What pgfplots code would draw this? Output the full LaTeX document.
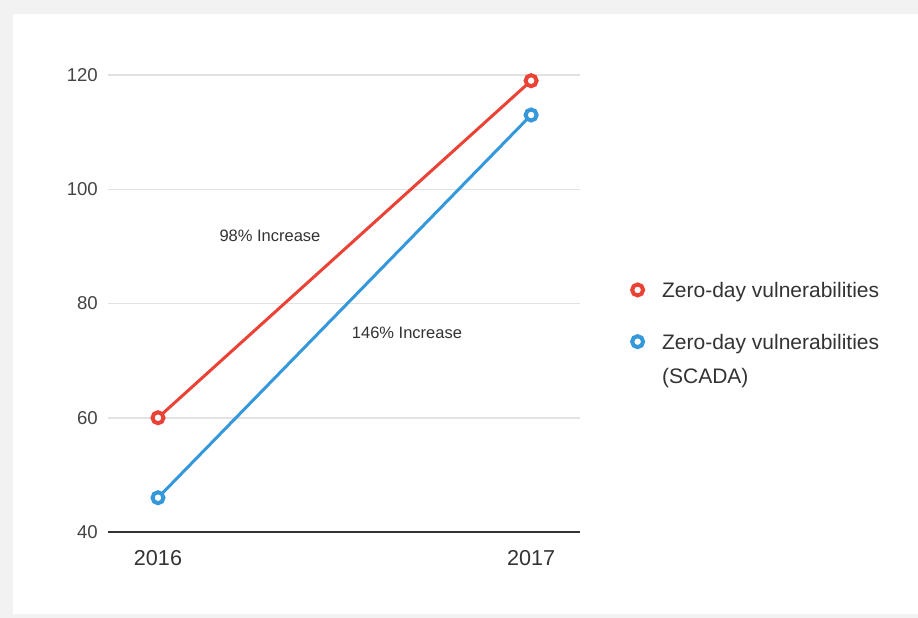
\documentclass[border=0pt]{standalone}
\usepackage{fontspec}
\setmainfont{Liberation Sans}
\usepackage{pgfplots}
\pgfplotsset{compat=1.18}
\definecolor{zred}{RGB}{234,67,53}
\definecolor{zblue}{RGB}{52,152,219}
\definecolor{bggray}{RGB}{242,242,242}
\definecolor{gridgray}{RGB}{226,226,226}
\definecolor{axisdark}{RGB}{51,51,51}
\definecolor{txt}{RGB}{68,68,68}
\begin{document}
\begin{tikzpicture}
\fill[bggray] (0,0) rectangle (918pt,-618pt);
\fill[white] (13pt,-14pt) rectangle (918pt,-614pt);
\useasboundingbox (0,0) rectangle (918pt,-618pt);
\begin{axis}[
  at={(108pt,-532pt)}, anchor=south west,
  scale only axis, width=472pt, height=457pt,
  xmin=2015.866, xmax=2017.131, ymin=40, ymax=120,
  xtick={2016,2017}, xticklabels={2016,2017},
  ytick={40,60,80,100,120},
  ymajorgrids, major grid style={gridgray, line width=1.5pt},
  major tick length=0pt,
  axis lines*=left,
  separate axis lines,
  x axis line style={draw=axisdark, line width=2.8pt},
  y axis line style={draw=none},
  /pgf/number format/assume math mode=true,
  yticklabel style={font=\fontsize{18.6}{20}\selectfont, text=txt, inner sep=0pt, xshift=-10pt},
  xticklabel style={font=\fontsize{21.6}{24}\selectfont, text=axisdark, inner sep=0pt, yshift=-18pt},
  clip=false,
  legend image code/.code={\draw[#1] plot coordinates {(0pt,7.5pt)};},
  legend style={at={(1.110,0.547)}, anchor=north west, draw=none, fill=none,
    inner sep=0pt, row sep=35pt, column sep=19pt,
    cells={anchor=base west},
    nodes={inner sep=0pt, font=\fontsize{21}{34}\selectfont, text=axisdark}},
]
\addplot[zred, line width=3pt, mark=*, mark size=5.5pt,
  mark options={fill=white, draw=zred, line width=4pt}]
  coordinates {(2016,60) (2017,119)};
\addlegendentry{Zero-day vulnerabilities}
\addplot[zblue, line width=3pt, mark=*, mark size=5.5pt,
  mark options={fill=white, draw=zblue, line width=4pt}]
  coordinates {(2016,46) (2017,113)};
\addlegendentry{\vtop{\hbox{Zero-day vulnerabilities}\hbox{(SCADA)}}}
\end{axis}
\node[font=\fontsize{16.5}{18}\selectfont, text=axisdark] at (270pt,-236pt) {98\% Increase};
\node[font=\fontsize{16.5}{18}\selectfont, text=axisdark] at (407pt,-333pt) {146\% Increase};
\end{tikzpicture}
\end{document}
